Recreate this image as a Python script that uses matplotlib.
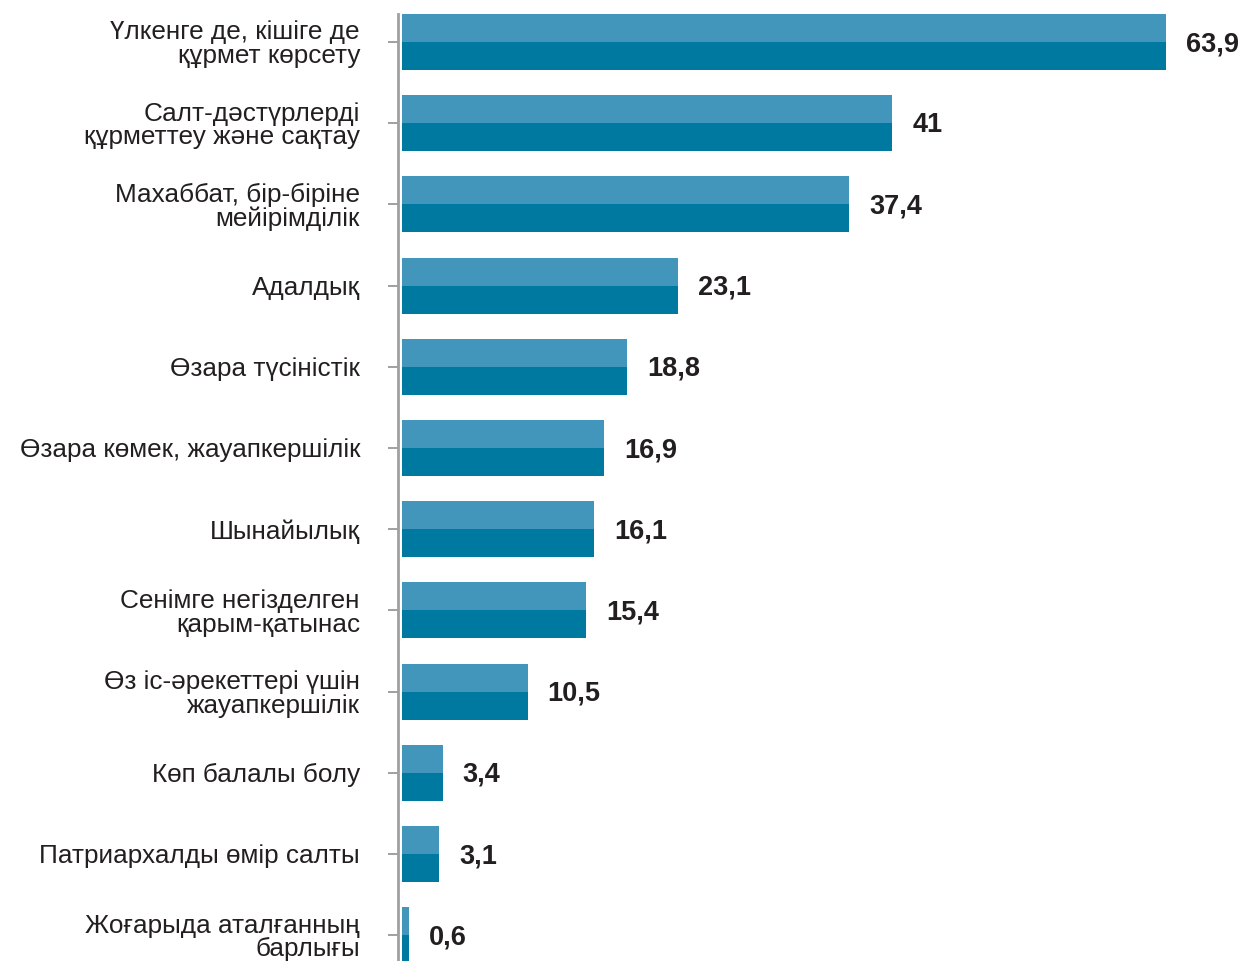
import matplotlib
matplotlib.use("Agg")
import matplotlib.pyplot as plt

categories = [
    "Үлкенге де, кішіге де\nқұрмет көрсету",
    "Салт-дәстүрлерді\nқұрметтеу және сақтау",
    "Махаббат, бір-біріне\nмейірімділік",
    "Адалдық",
    "Өзара түсіністік",
    "Өзара көмек, жауапкершілік",
    "Шынайылық",
    "Сенімге негізделген\nқарым-қатынас",
    "Өз іс-әрекеттері үшін\nжауапкершілік",
    "Көп балалы болу",
    "Патриархалды өмір салты",
    "Жоғарыда аталғанның\nбарлығы",
]
values = [63.9, 41, 37.4, 23.1, 18.8, 16.9, 16.1, 15.4, 10.5, 3.4, 3.1, 0.6]
value_labels = ["63,9", "41", "37,4", "23,1", "18,8", "16,9", "16,1", "15,4", "10,5", "3,4", "3,1", "0,6"]

light = "#4396BB"
dark = "#0079A1"

plt.rcParams['font.family'] = ['Liberation Sans', 'DejaVu Sans']

W, H = 1248, 961
fig = plt.figure(figsize=(W / 100, H / 100), dpi=100)
ax_left, ax_top, ax_bottom = 397.5, 14, 961
ax = fig.add_axes([ax_left / W, 1 - ax_bottom / H, (W - ax_left) / W, (ax_bottom - ax_top) / H])

px_per_unit = (1166 - 402) / 63.9
x0 = -(402 - ax_left) / px_per_unit
x1 = x0 + (W - ax_left) / px_per_unit
ax.set_xlim(x0, x1)

n = len(categories)
pos = list(range(n))
bh = 0.69
ax.barh([p - bh / 4 for p in pos], values, height=bh / 2, color=light, linewidth=0)
ax.barh([p + bh / 4 for p in pos], values, height=bh / 2, color=dark, linewidth=0)

spacing = 81.2
top_idx = -(42 - ax_top) / spacing
bot_idx = top_idx + (ax_bottom - ax_top) / spacing
ax.set_ylim(bot_idx, top_idx)

ax.set_yticks(pos)
ax.set_yticklabels(categories, fontsize=18.8, color="#231f20", linespacing=0.98)
ax.tick_params(axis="y", length=7, width=1.4, color="#a0a0a0", pad=20)
ax.set_xticks([])
for s in ["top", "right", "bottom"]:
    ax.spines[s].set_visible(False)
ax.spines["left"].set_color("#a0a0a0")
ax.spines["left"].set_linewidth(2)

for p, v, lab in zip(pos, values, value_labels):
    ax.annotate(lab, (v, p), xytext=(20 * 72 / 100, -1.5), textcoords="offset points",
                ha="left", va="center", fontsize=19.5, fontweight="bold", color="#231f20")

fig.savefig("out.png", dpi=100)
